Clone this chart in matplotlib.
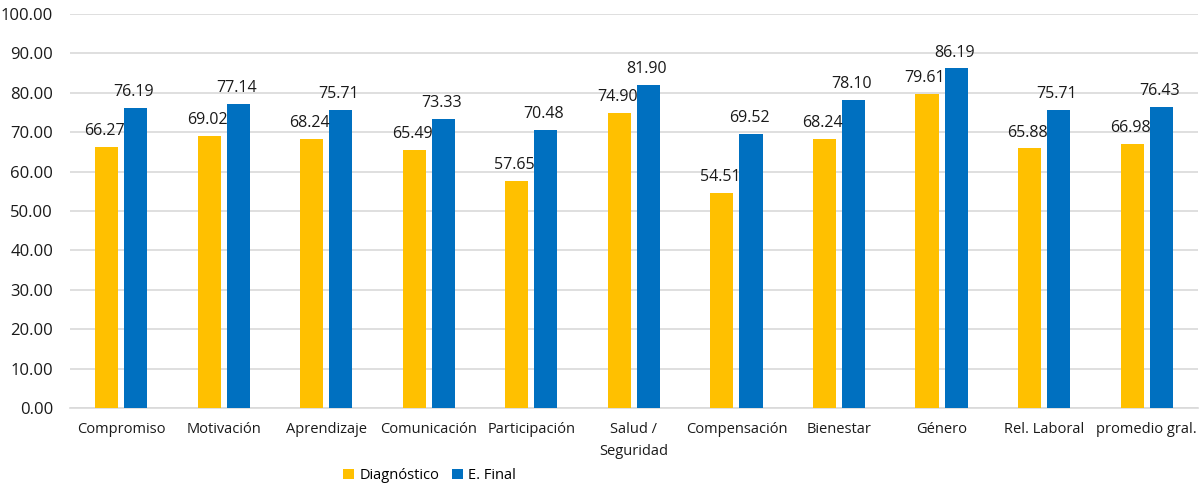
import matplotlib
matplotlib.use("Agg")
import matplotlib.pyplot as plt
import numpy as np

categories = ["Compromiso", "Motivación", "Aprendizaje", "Comunicación", "Participación",
              "Salud /\nSeguridad", "Compensación", "Bienestar", "Género", "Rel. Laboral",
              "promedio gral."]
diagnostico = [66.27, 69.02, 68.24, 65.49, 57.65, 74.90, 54.51, 68.24, 79.61, 65.88, 66.98]
e_final = [76.19, 77.14, 75.71, 73.33, 70.48, 81.90, 69.52, 78.10, 86.19, 75.71, 76.43]
y_ticks = np.arange(0, 101, 10)

plt.rcParams["font.family"] = ["Open Sans", "DejaVu Sans"]

fig = plt.figure(figsize=(12.04, 4.84), dpi=100)
ax = fig.add_axes([0.058, 0.157, 0.937, 0.814])

x = np.arange(len(categories))
w = 0.225
off = 0.142
b1 = ax.bar(x - off, diagnostico, w, color="#FFC000", label="Diagnóstico", zorder=3)
b2 = ax.bar(x + off, e_final, w, color="#0070C0", label="E. Final", zorder=3)

for bars, vals in ((b1, diagnostico), (b2, e_final)):
    for rect, v in zip(bars, vals):
        ax.text(rect.get_x() + rect.get_width() / 2 - 0.02, v + 2.0, f"{v:.2f}",
                ha="center", va="bottom", fontsize=11.5, color="#1a1a1a", zorder=4)

ax.set_xlim(-0.5, len(categories) - 0.5)
ax.set_ylim(0, 100)
ax.set_yticks(y_ticks)
ax.set_yticklabels([f"{t:.2f}" for t in y_ticks], fontsize=12, color="#1a1a1a")
ax.set_xticks(x)
ax.set_xticklabels(categories, fontsize=10.5, color="#1a1a1a", linespacing=1.6)
ax.tick_params(axis="both", length=0)
ax.tick_params(axis="y", pad=12)
ax.tick_params(axis="x", pad=10)
ax.yaxis.grid(True, color="#D9D9D9", linewidth=1.2, zorder=0)
for s in ("top", "right", "left"):
    ax.spines[s].set_visible(False)
ax.spines["bottom"].set_color("#D9D9D9")
ax.spines["bottom"].set_linewidth(1.2)

fig.legend(handles=[b1, b2], loc="lower center", bbox_to_anchor=(0.357, -0.025), ncol=2,
           frameon=False, fontsize=10.5, handlelength=0.7, handleheight=0.7,
           handletextpad=0.4, columnspacing=0.9)

fig.savefig("out.png", dpi=100)
